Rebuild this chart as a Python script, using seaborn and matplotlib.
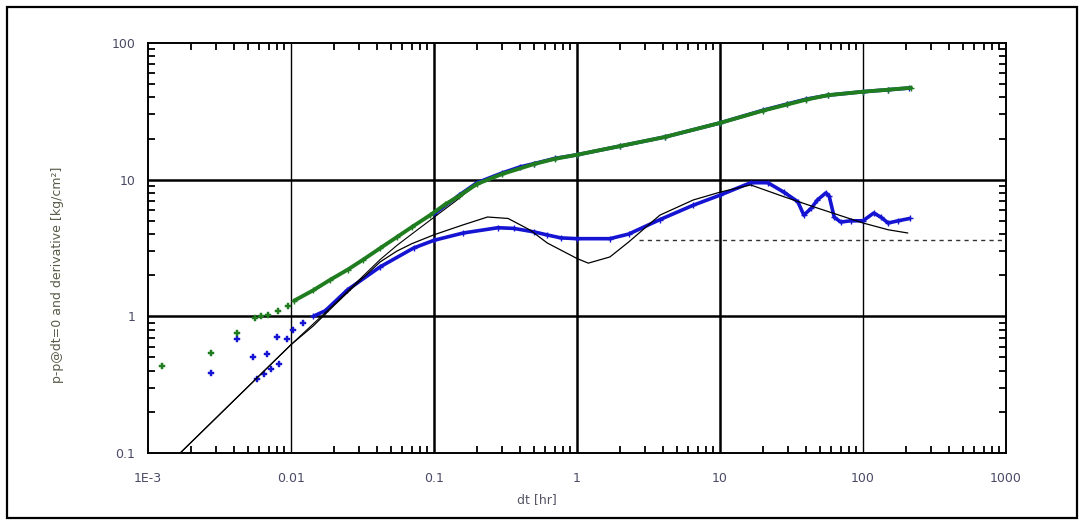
import numpy as np
import pandas as pd
import matplotlib
matplotlib.use("Agg")
import matplotlib.pyplot as plt
import seaborn as sns
from matplotlib.patches import Rectangle
from matplotlib.ticker import LogLocator, FixedLocator, FixedFormatter, NullFormatter

# ---------------- data ----------------
# early scattered pressure points (green)
p_early_x = [0.00125, 0.00276, 0.0042, 0.0056, 0.0062, 0.0069, 0.0081, 0.0095]
p_early_y = [0.43, 0.54, 0.76, 0.98, 1.0, 1.02, 1.09, 1.2]
# continuous pressure change (green)
p_x = [0.0105, 0.0143, 0.0188, 0.025, 0.032, 0.042, 0.055, 0.07, 0.094, 0.12, 0.15,
       0.2, 0.3, 0.5, 0.7, 1.0, 2.0, 4.1, 10, 20, 29.6, 40, 57, 100, 150, 217]
p_y = [1.3, 1.55, 1.85, 2.2, 2.6, 3.15, 3.8, 4.5, 5.5, 6.6, 7.6,
       9.3, 11.0, 13.0, 14.2, 15.2, 17.6, 20.5, 26, 32, 35.5, 38.5, 41.5, 44, 45.5, 47]
# second pressure data set (blue, mostly hidden beneath the green)
pb_x = [0.1, 0.15, 0.2, 0.3, 0.4, 0.5, 0.7, 1.0, 2.0, 4.1, 10, 20, 29.6, 40, 57, 100, 150, 210]
pb_y = [5.6, 7.7, 9.5, 11.2, 12.4, 13.1, 14.3, 15.2, 17.6, 20.5, 26, 32.2, 35.8, 38.8, 41.5, 44, 45.5, 46.8]

# early scattered derivative points (blue)
d_early_x = [0.00276, 0.0042, 0.0054, 0.0058, 0.0065, 0.0068, 0.0072, 0.008, 0.0082, 0.0094, 0.0104, 0.0122]
d_early_y = [0.385, 0.68, 0.50, 0.35, 0.38, 0.53, 0.41, 0.71, 0.45, 0.68, 0.80, 0.89]
# continuous derivative (blue)
d_x = [0.0143, 0.0174, 0.0248, 0.042, 0.072, 0.1, 0.16, 0.28, 0.36, 0.5, 0.62, 0.77, 1.0,
       1.7, 2.3, 3.8, 6.5, 10, 16.4, 21.6, 28, 35, 38.6, 43.6, 48, 55, 58, 63, 70, 82,
       100, 119, 134, 150, 176, 212]
d_y = [1.0, 1.1, 1.56, 2.3, 3.16, 3.6, 4.07, 4.45, 4.4, 4.15, 3.94, 3.75, 3.7,
       3.7, 4.0, 5.1, 6.5, 7.7, 9.5, 9.5, 8.1, 6.9, 5.5, 6.2, 7.1, 8.0, 7.6, 5.3, 4.9, 5.0,
       5.0, 5.7, 5.3, 4.82, 5.0, 5.2]

# model pressure (black)
mp_x = [0.00168, 0.01, 0.02, 0.03, 0.042, 0.055, 0.07, 0.1, 0.14, 0.2, 0.3, 0.5, 1.0,
        4.1, 10, 29.6, 57, 100, 217]
mp_y = [0.1, 0.62, 1.22, 1.85, 2.6, 3.3, 4.0, 5.3, 6.9, 9.3, 11.0, 13.0, 15.2,
        20.5, 26, 35.5, 41.5, 44, 47]
# model derivative (black)
md_x = [0.00168, 0.01, 0.0143, 0.02, 0.03, 0.042, 0.055, 0.07, 0.1, 0.16, 0.237, 0.33,
        0.47, 0.62, 1.0, 1.2, 1.7, 2.3, 3.8, 6.5, 10, 16.4, 28, 48, 100, 150, 206]
md_y = [0.1, 0.62, 0.85, 1.2, 1.8, 2.5, 3.0, 3.4, 3.95, 4.67, 5.33, 5.2,
        4.28, 3.44, 2.65, 2.45, 2.72, 3.5, 5.5, 7.1, 8.1, 9.15, 7.5, 6.2, 4.82, 4.3, 4.07]
# radial flow stabilisation (dashed)
rf_x = [2.7, 1000]
rf_y = [3.62, 3.62]

x_ticks = [0.001, 0.01, 0.1, 1, 10, 100, 1000]
x_labels = ["1E-3", "0.01", "0.1", "1", "10", "100", "1000"]
y_ticks = [0.1, 1, 10, 100]
y_labels = ["0.1", "1", "10", "100"]

# ---------------- plot ----------------
sns.set_style("white")
plt.rcParams["font.family"] = ["DejaVu Sans"]

fig = plt.figure(figsize=(10.88, 5.21), dpi=100)
ax = fig.add_axes([0.136, 0.1305, 0.7886, 0.787])

GREEN = "#1f7d1f"
BLUE = "#1414d2"

# grid lines (decades)
for v, lw in zip(x_ticks[1:-1], [1.0, 1.8, 1.8, 1.8, 1.0]):
    ax.axvline(v, color="black", lw=lw, zorder=1)
for v in y_ticks[1:-1]:
    ax.axhline(v, color="black", lw=1.8, zorder=1)

df_pb = pd.DataFrame({"x": pb_x, "y": pb_y})
sns.lineplot(data=df_pb, x="x", y="y", ax=ax, color=BLUE, lw=2.6, zorder=3,
             marker="+", markersize=4, markeredgewidth=1, markeredgecolor=BLUE)

df_d = pd.DataFrame({"x": d_x, "y": d_y})
sns.lineplot(data=df_d, x="x", y="y", ax=ax, color=BLUE, lw=2.6, zorder=3,
             marker="+", markersize=4, markeredgewidth=1, markeredgecolor=BLUE)
df_de = pd.DataFrame({"x": d_early_x, "y": d_early_y})
sns.scatterplot(data=df_de, x="x", y="y", ax=ax, color=BLUE, marker="P", s=14,
                edgecolor=BLUE, zorder=3)

df_p = pd.DataFrame({"x": p_x, "y": p_y})
sns.lineplot(data=df_p, x="x", y="y", ax=ax, color=GREEN, lw=2.8, zorder=4,
             marker="+", markersize=4, markeredgewidth=1, markeredgecolor=GREEN)
df_pe = pd.DataFrame({"x": p_early_x, "y": p_early_y})
sns.scatterplot(data=df_pe, x="x", y="y", ax=ax, color=GREEN, marker="P", s=16,
                edgecolor=GREEN, zorder=4)

df_mp = pd.DataFrame({"x": mp_x, "y": mp_y})
sns.lineplot(data=df_mp, x="x", y="y", ax=ax, color="black", lw=0.8, zorder=3.5)
df_md = pd.DataFrame({"x": md_x, "y": md_y})
sns.lineplot(data=df_md, x="x", y="y", ax=ax, color="black", lw=0.9, zorder=5)
df_rf = pd.DataFrame({"x": rf_x, "y": rf_y})
sns.lineplot(data=df_rf, x="x", y="y", ax=ax, color="#333333", lw=1.0,
             linestyle=(0, (3, 3)), zorder=2)

ax.set_xscale("log")
ax.set_yscale("log")
ax.set_xlim(0.001, 1000)
ax.set_ylim(0.1, 100)

tick_color = "#4a4a66"
ax.xaxis.set_major_locator(FixedLocator(x_ticks))
ax.xaxis.set_major_formatter(FixedFormatter(x_labels))
ax.yaxis.set_major_locator(FixedLocator(y_ticks))
ax.yaxis.set_major_formatter(FixedFormatter(y_labels))
ax.xaxis.set_minor_locator(LogLocator(base=10, subs=np.arange(2, 10), numticks=20))
ax.yaxis.set_minor_locator(LogLocator(base=10, subs=np.arange(2, 10), numticks=20))
ax.xaxis.set_minor_formatter(NullFormatter())
ax.yaxis.set_minor_formatter(NullFormatter())

ax.tick_params(which="major", direction="in", length=0, labelsize=9,
               labelcolor=tick_color)
ax.tick_params(axis="x", which="major", pad=14)
ax.tick_params(axis="y", which="major", pad=9)
ax.tick_params(which="minor", direction="in", length=5, width=1.3, color="black",
               top=True, right=True, bottom=True, left=True)

for s in ax.spines.values():
    s.set_color("black")
    s.set_linewidth(1.4)

ax.set_xlabel("")
ax.set_ylabel("")
fig.text(537 / 1088, 1 - 500 / 521, "dt [hr]", ha="center", va="center",
         fontsize=9, color="#555566")
fig.text(58 / 1088, 1 - 275 / 521, "p-p@dt=0 and derivative [kg/cm²]",
         rotation=90, ha="center", va="center", fontsize=9, color="#5a5a48")

fig.patches.append(Rectangle((7 / 1088, 3 / 521), 1070 / 1088, 511 / 521,
                             transform=fig.transFigure, fill=False,
                             edgecolor="black", lw=1.6))

fig.savefig("out.png", dpi=100)
